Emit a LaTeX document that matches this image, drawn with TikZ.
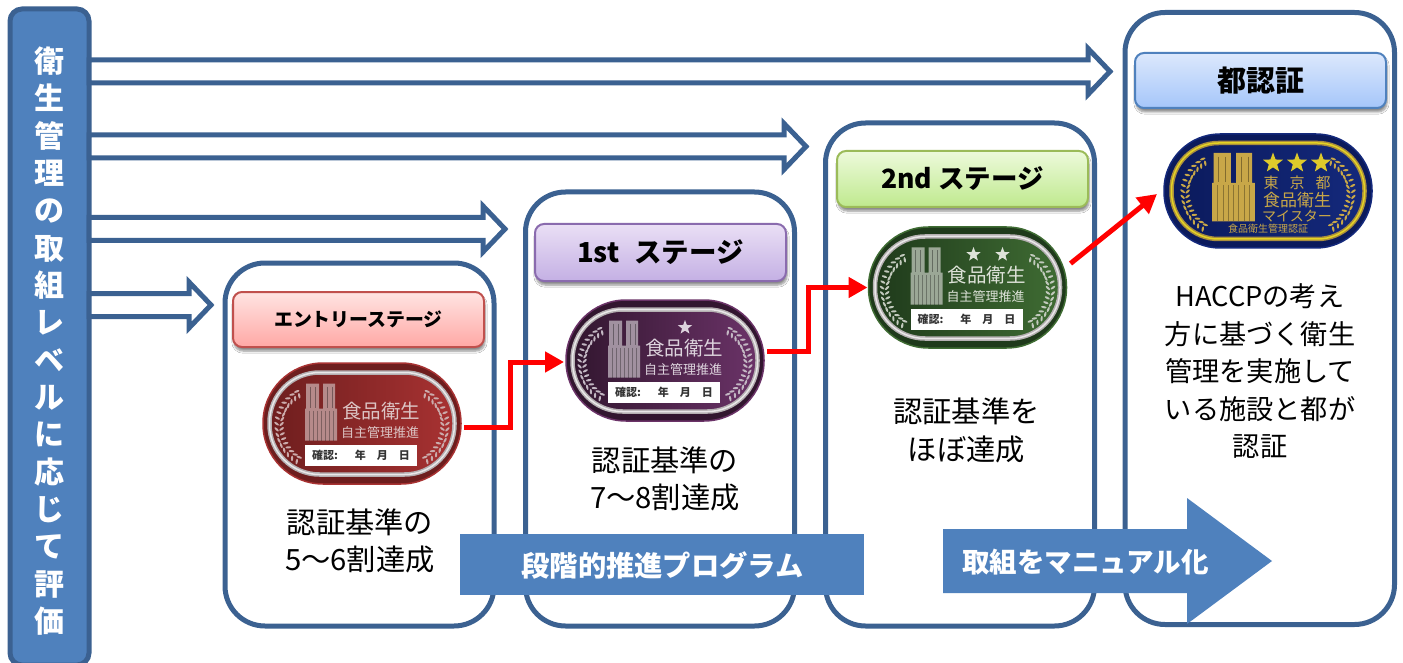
\documentclass[tikz,border=0pt]{standalone}
\usepackage{fontspec}
\setmainfont{Noto Sans CJK JP}
\usepackage{xcolor}
\usetikzlibrary{calc,arrows.meta,shapes.geometric,shadows.blur}

\definecolor{frameline}{HTML}{3B6191}
\definecolor{bandfill}{HTML}{4F81BD}
\definecolor{entrydark}{HTML}{6E1E1E}
\definecolor{entrybright}{HTML}{A83232}
\definecolor{entryink}{HTML}{DCC4C4}
\definecolor{firstdark}{HTML}{32162F}
\definecolor{firstbright}{HTML}{6B3368}
\definecolor{firstink}{HTML}{DDD3DD}
\definecolor{seconddark}{HTML}{1F3A1B}
\definecolor{secondbright}{HTML}{3F6C33}
\definecolor{secondink}{HTML}{DDE2D8}
\definecolor{silverring}{HTML}{B5B0B2}
\definecolor{goldring}{HTML}{C8A748}
\definecolor{navydark}{HTML}{0B1A5C}
\definecolor{navybright}{HTML}{14297C}
\definecolor{entryedge}{HTML}{C0504D}
\definecolor{entrytop}{HTML}{FFE4E2}
\definecolor{entrybottom}{HTML}{FFA8A5}
\definecolor{firstedge}{HTML}{8A6BAE}
\definecolor{firsttop}{HTML}{EADFF5}
\definecolor{firstbottom}{HTML}{C4B0E4}
\definecolor{secondedge}{HTML}{9BBB59}
\definecolor{secondtop}{HTML}{EDFADB}
\definecolor{secondbottom}{HTML}{BFE98E}
\definecolor{capitaltop}{HTML}{DCE8FC}
\definecolor{capitalbottom}{HTML}{A5C6FA}

\tikzset{
    stageframe/.style={draw=frameline, line width=5pt, fill=white, rounded corners=40pt, inner sep=0, outer sep=0},
    titlebox/.style n args={3}{draw=#1, top color=#2, bottom color=#3, line width=2pt, rounded corners=9pt,
        minimum width=251pt, minimum height=55pt, outer sep=0, inner sep=0, text=black,
        font=\fontsize{26.5}{30}\selectfont\bfseries,
        blur shadow={shadow xshift=1pt, shadow yshift=-4pt, shadow blur steps=6, shadow opacity=45}},
    bodytext/.style={align=center, inner sep=0, font=\fontsize{29.3}{37.5}\selectfont},
    bandtext/.style={text=white, inner sep=0, font=\fontsize{27.5}{30}\selectfont\bfseries},
    levelarrow/.style={draw=frameline, line width=5pt, fill=white, miter limit=10},
    stepline/.style={draw=red, line width=5pt, -{Triangle[length=19pt,width=20pt]}},
    emblembase/.style={line width=1.5pt, minimum width=198pt, minimum height=121pt, rounded corners=60pt, inner sep=0, outer sep=0},
    emblemring/.style={line width=1.5pt, double=silverring!30!white, double distance=1.5pt, minimum width=185pt, minimum height=102pt,
        rounded corners=50pt, inner sep=0, outer sep=0},
    emblemstar/.style={star, star points=5, star point ratio=2.4, fill=#1, minimum size=15pt, inner sep=0},
    emblemlabel/.style={fill=white, text=black!80, minimum width=112pt, minimum height=21pt, inner sep=0,
        font=\fontsize{11}{12}\selectfont\bfseries}
}

\newcommand{\laurels}[1]
{
    \foreach \side in {1,-1}
    {
        \begin{scope}[xscale=\side, shift={(-45,3)}]
            \foreach \a in {120,128,...,240}
            {
                \fill[#1, shift={(\a:35.5)}, rotate=\a+40] (0,0) ellipse [x radius=2.8, y radius=1.1];
                \fill[#1, shift={(\a:40.5)}, rotate=\a-40] (0,0) ellipse [x radius=2.8, y radius=1.1];
            }
        \end{scope}
    }
}

\newcommand{\towers}[1]
{
    \fill[#1] (-15,0) rectangle (-2,25) (2,0) rectangle (14,25) (-16,25) rectangle (16,57);
    \foreach \i in {-12,-8,...,12}
    {
        \draw[black, opacity=.3, line width=.7pt] (\i,27) -- (\i,57);
    }
    \foreach \i in {-11,-6,6,11}
    {
        \draw[black, opacity=.35, line width=1pt] (\i,3) -- (\i,24);
    }
}

\newcommand{\emblem}[6]
{
    \node[emblembase, fill=#3, draw=#4] (#1) at (#2) {};
    \begin{scope}[shift={(#1.center)}]
        \node[emblemring, draw=#5, left color=#3, right color=#4] (#1ring) at (0,0) {};
        \begin{scope}[shift={(-41,-40)}]
            \towers{#6!65!#3}
        \end{scope}
        \laurels{#6!85!#3}
        \node[text=#6, inner sep=0, font=\fontsize{19.5}{20}\selectfont] (#1name) at (19,-12) {食品衛生};
        \node[text=#6, inner sep=0, font=\fontsize{13}{14}\selectfont] (#1sub) at (18,9) {自主管理推進};
        \node[emblemlabel] (#1label) at (-1,31.5) {確認:\hspace{17pt}年\hspace{11pt}月\hspace{11pt}日};
    \end{scope}
}

\newcommand{\hollowarrow}[2]
{
    \draw[levelarrow] (#1) ++(0,-11.5) -- ($(#2)+(-22,-11.5)$) -- ++(0,-11.5) -- (#2)
        -- ($(#2)+(-22,23)$) -- ++(0,-11.5) -- ($(#1)+(0,11.5)$) -- cycle;
}

\begin{document}
\begin{tikzpicture}[x=1pt,y=-1pt]
    \useasboundingbox (0,0) rectangle (1403,663);

    \node[draw=frameline, fill=bandfill, line width=5pt, rounded corners=12pt, minimum width=79pt, minimum height=656pt,
        inner sep=0, outer sep=0] (levelbar) at (49.5,337) {};
    \node[text=white, align=center, inner sep=0, font=\fontsize{30}{37.33}\selectfont\bfseries] (leveltext) at (49.5,341)
        {衛\\生\\管\\理\\の\\取\\組\\レ\\ベ\\ル\\に\\応\\じ\\て\\評\\価};

    \foreach \name/\x/\y/\w/\h in {entryframe/359.5/444.5/269/363, firstframe/660/409/269/434,
        secondframe/960/374.5/269/503, capitalframe/1259.75/318.5/269.5/612}
    {
        \node[stageframe, minimum width=\w pt, minimum height=\h pt] (\name) at (\x,\y) {};
    }

    \foreach \name/\y/\tipx in {a/71.5/1110, b/146.5/806, c/229/505, d/305/211}
    {
        \coordinate (levelstart\name) at (levelbar.east |- 0,\y);
        \coordinate (leveltip\name) at (\tipx,\y);
        \hollowarrow{levelstart\name}{leveltip\name}
    }

    \node[titlebox={entryedge}{entrytop}{entrybottom}] (entrytitle) at (358.5,319.5)
        {\fontsize{18.9}{20}\selectfont エントリーステージ};
    \node[titlebox={firstedge}{firsttop}{firstbottom}, minimum height=57pt] (firsttitle) at (660.5,252.5)
        {\fontsize{27.5}{30}\selectfont 1st\hspace{15pt}ステージ};
    \node[titlebox={secondedge}{secondtop}{secondbottom}, minimum height=56pt] (secondtitle) at (962.5,179)
        {2nd ステージ};
    \node[titlebox={bandfill}{capitaltop}{capitalbottom}] (capitaltitle) at (1260.5,80.5)
        {\fontsize{29}{30}\selectfont 都認証};

    \emblem{emblementry}{362,423.5}{entrydark}{entrybright}{silverring}{entryink}
    \emblem{emblemfirst}{665,360.5}{firstdark}{firstbright}{silverring}{firstink}
    \emblem{emblemsecond}{967.5,287.5}{seconddark}{secondbright}{silverring}{secondink}

    \node[emblemstar=firstink] (firststar) at ($(emblemfirst)+(20,-33)$) {};
    \foreach \s/\x in {a/6, b/35}
    {
        \node[emblemstar=secondink] (secondstar\s) at ($(emblemsecond)+(\x,-33)$) {};
    }

    \node[emblembase, fill=navydark, draw=navybright, minimum width=208pt, minimum height=114pt, rounded corners=56pt] (emblemcapital) at (1268,191) {};
    \begin{scope}[shift={(emblemcapital.center)}]
        \node[emblemring, draw=goldring!85!black, double=goldring!50!yellow, left color=navydark, right color=navybright, minimum width=193pt, minimum height=96pt, rounded corners=47pt] (capitalring) at (0,0) {};
        \begin{scope}[shift={(-34.5,-38)}, xscale=1.33, yscale=1.2]
            \towers{goldring}
        \end{scope}
        \laurels{goldring}
        \foreach \s/\x in {a/5, b/29, c/53}
        {
            \node[emblemstar=goldring!60!yellow, minimum size=21pt] (capitalstar\s) at (\x,-28) {};
        }
        \node[text=goldring, inner sep=0, font=\fontsize{15}{16}\selectfont] (capitalcity) at (29,-8) {東\hspace{11pt}京\hspace{11pt}都};
        \node[text=goldring, inner sep=0, font=\fontsize{17}{18}\selectfont] (capitalname) at (29,9.5) {食品衛生};
        \node[text=goldring, inner sep=0, font=\fontsize{14}{15}\selectfont] (capitalmeister) at (29,25) {マイスター};
        \node[text=goldring, inner sep=0, font=\fontsize{10}{11}\selectfont] (capitalnote) at (0,38) {食品衛生管理認証};
    \end{scope}

    \node[bodytext] (entrytext) at (360,541) {認証基準の\\5〜6割達成};
    \node[bodytext] (firsttext) at (665,479) {認証基準の\\7〜8割達成};
    \node[bodytext] (secondtext) at (966.5,430.5) {認証基準を\\ほぼ達成};
    \node[bodytext, font=\fontsize{27.2}{37.5}\selectfont] (capitaltext) at (1260,371.5)
        {HACCPの考え\\方に基づく衛生\\管理を実施して\\いる施設と都が\\認証};

    \draw[stepline] (emblementry.east) ++(3,3.5) -- ++(46,0) |- ($(emblemfirst.west)+(-2,1.5)$);
    \draw[stepline] (emblemfirst.east) ++(3,-9) -- ++(41,0) |- ($(emblemsecond.west)+(-1,0)$);
    \draw[stepline] (emblemsecond.east) ++(4,-24) -- ($(emblemcapital.west)+(-7,3)$);

    \node[fill=bandfill, minimum width=404pt, minimum height=61pt, inner sep=0] (stepband) at (662,564.5) {};
    \node[bandtext, font=\fontsize{28.3}{30}\selectfont\bfseries] (stepbandtext) at (662.5,565) {段階的推進プログラム};
    \fill[bandfill] (943,529) -- (1187,529) -- (1187,498) -- (1272,561) -- (1187,624) -- (1187,593) -- (943,593) -- cycle;
    \node[bandtext] (manualtext) at (1085.5,562) {取組をマニュアル化};
\end{tikzpicture}
\end{document}
